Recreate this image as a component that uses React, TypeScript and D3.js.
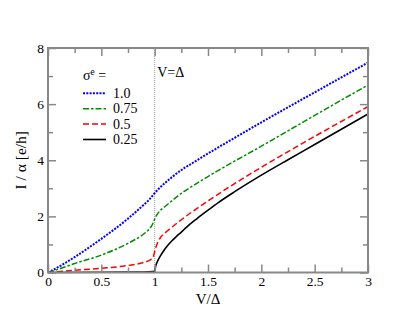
import React, { useEffect, useRef } from 'react';
import * as d3 from 'd3';

const width = 415;
const height = 321;
const plot = { left: 48, right: 368, top: 48, bottom: 272.5 };

// sigma^e = 1.0
const blueV = [0, 0.1, 0.25, 0.5, 0.75, 0.9, 0.95, 1.0, 1.05, 1.1, 1.25, 1.35, 1.5, 1.75, 2, 2.5, 3];
const blueI = [0, 0.2, 0.55, 1.2, 1.92, 2.42, 2.6, 2.83, 3.03, 3.2, 3.65, 3.89, 4.24, 4.8, 5.35, 6.42, 7.48];
// sigma^e = 0.75
const greenV = [0, 0.1, 0.25, 0.5, 0.75, 0.9, 0.95, 0.98, 1.0, 1.02, 1.05, 1.1, 1.25, 1.35, 1.5, 1.75, 2, 2.5, 3];
const greenI = [0, 0.12, 0.32, 0.62, 1.04, 1.38, 1.55, 1.72, 1.9, 2.05, 2.2, 2.36, 2.82, 3.07, 3.42, 3.97, 4.5, 5.6, 6.68];
// sigma^e = 0.5
const redV = [0, 0.25, 0.5, 0.75, 0.9, 0.95, 0.97, 0.99, 1.0, 1.01, 1.03, 1.05, 1.1, 1.15, 1.25, 1.5, 1.75, 2, 2.5, 3];
const redI = [0, 0.08, 0.15, 0.25, 0.36, 0.43, 0.48, 0.6, 0.74, 0.88, 1.08, 1.22, 1.42, 1.58, 1.88, 2.55, 3.17, 3.75, 4.85, 5.91];
// sigma^e = 0.25
const blackV = [0, 0.5, 0.9, 0.98, 1.0, 1.01, 1.02, 1.04, 1.06, 1.08, 1.12, 1.16, 1.2, 1.25, 1.3, 1.4, 1.5, 1.6, 1.75, 2, 2.25, 2.5, 3];
const blackI = [0, 0.01, 0.02, 0.03, 0.05, 0.24, 0.34, 0.5, 0.63, 0.75, 0.95, 1.12, 1.27, 1.44, 1.62, 1.93, 2.22, 2.5, 2.88, 3.47, 4.02, 4.56, 5.65];

const legendLabels = ['1.0', '0.75', '0.5', '0.25'];
const xMajor = [0, 0.5, 1, 1.5, 2, 2.5, 3];
const xMinor = [0.25, 0.75, 1.25, 1.75, 2.25, 2.75];
const yMajor = [0, 2, 4, 6, 8];
const yMinor = [1, 3, 5, 7];

const styles = [
  { color: '#0000ff', dash: '2,1.3', w: 2 },
  { color: '#008c00', dash: '6,2,2.5,2', w: 1.5 },
  { color: '#ff0000', dash: '6,3', w: 1.5 },
  { color: '#000000', dash: null, w: 1.6 },
];

const font = '"Liberation Serif", Times, serif';

export default function App() {
  const ref = useRef<SVGSVGElement>(null);

  useEffect(() => {
    const svg = d3.select(ref.current);
    svg.selectAll('*').remove();

    const x = d3.scaleLinear().domain([0, 3]).range([plot.left, plot.right]);
    const y = d3.scaleLinear().domain([0, 8]).range([plot.bottom, plot.top]);

    const series = [
      { V: blueV, I: blueI },
      { V: greenV, I: greenI },
      { V: redV, I: redI },
      { V: blackV, I: blackI },
    ];

    // V = Delta marker
    svg.append('line')
      .attr('x1', x(1)).attr('x2', x(1))
      .attr('y1', y(8)).attr('y2', y(0))
      .attr('stroke', '#999').attr('stroke-width', 1)
      .attr('stroke-dasharray', '1,1');
    svg.append('text')
      .attr('x', x(1) + 2.5).attr('y', 77)
      .style('font-family', font).style('font-size', '14px')
      .text('V=Δ');

    const line = d3.line<number>().curve(d3.curveMonotoneX);
    series.forEach((s, k) => {
      const st = styles[k];
      line.x((_, i) => x(s.V[i])).y(d => y(d));
      svg.append('path')
        .datum(s.I)
        .attr('d', line)
        .attr('fill', 'none')
        .attr('stroke', st.color)
        .attr('stroke-width', st.w)
        .attr('stroke-dasharray', st.dash);
    });

    // axes, ticks pointing inward
    const axes = svg.append('g');
    const addAxis = (axis: any, tr: string) => axes.append('g').attr('transform', tr).call(axis);
    const fmt = d3.format('~g');
    addAxis(d3.axisBottom(x).tickValues(xMajor).tickSize(-8).tickPadding(4).tickFormat(fmt as any), `translate(0,${plot.bottom})`);
    addAxis(d3.axisBottom(x).tickValues(xMinor).tickSize(-5).tickFormat(() => ''), `translate(0,${plot.bottom})`);
    addAxis(d3.axisTop(x).tickValues(xMajor).tickSize(-8).tickFormat(() => ''), `translate(0,${plot.top})`);
    addAxis(d3.axisTop(x).tickValues(xMinor).tickSize(-5).tickFormat(() => ''), `translate(0,${plot.top})`);
    addAxis(d3.axisLeft(y).tickValues(yMajor).tickSize(-8).tickPadding(4).tickFormat(fmt as any), `translate(${plot.left},0)`);
    addAxis(d3.axisLeft(y).tickValues(yMinor).tickSize(-5).tickFormat(() => ''), `translate(${plot.left},0)`);
    addAxis(d3.axisRight(y).tickValues(yMajor).tickSize(-8).tickFormat(() => ''), `translate(${plot.right},0)`);
    addAxis(d3.axisRight(y).tickValues(yMinor).tickSize(-5).tickFormat(() => ''), `translate(${plot.right},0)`);
    axes.selectAll('.domain').remove();
    axes.selectAll('g').attr('font-family', null).attr('font-size', null);
    axes.selectAll('.tick line').attr('stroke', '#888').attr('stroke-width', 1.5);
    axes.selectAll('.tick text')
      .style('font-family', font).style('font-size', '13.5px').attr('fill', '#000');

    svg.append('rect')
      .attr('x', plot.left).attr('y', plot.top)
      .attr('width', plot.right - plot.left).attr('height', plot.bottom - plot.top)
      .attr('fill', 'none').attr('stroke', '#888').attr('stroke-width', 2);

    // axis titles
    svg.append('text')
      .attr('x', (plot.left + plot.right) / 2).attr('y', 304)
      .attr('text-anchor', 'middle')
      .style('font-family', font).style('font-size', '15px')
      .text('V/Δ');
    svg.append('text')
      .attr('transform', `translate(26,${(plot.top + plot.bottom) / 2}) rotate(-90)`)
      .attr('text-anchor', 'middle')
      .style('font-family', font).style('font-size', '15.5px')
      .text('I / α [e/h]');

    // legend
    const lg = svg.append('g').style('font-family', font).style('font-size', '14px');
    const title = lg.append('text').attr('x', 83).attr('y', 80);
    title.append('tspan').text('σ');
    title.append('tspan').style('font-size', '9.5px').attr('dy', -5).text('e');
    title.append('tspan').attr('dy', 5).text(' =');
    legendLabels.forEach((lab, k) => {
      const st = styles[k];
      const ly = 93.3 + k * 15.4;
      lg.append('line')
        .attr('x1', 83).attr('x2', 106).attr('y1', ly).attr('y2', ly)
        .attr('stroke', st.color).attr('stroke-width', st.w)
        .attr('stroke-dasharray', st.dash);
      lg.append('text').attr('x', 113).attr('y', ly + 4.5).text(lab);
    });
  }, []);

  return (
    <div style={{ position: 'absolute', left: 0, top: 0 }}>
      <svg ref={ref} width={width} height={height} style={{ display: 'block', background: '#fff' }} />
    </div>
  );
}
